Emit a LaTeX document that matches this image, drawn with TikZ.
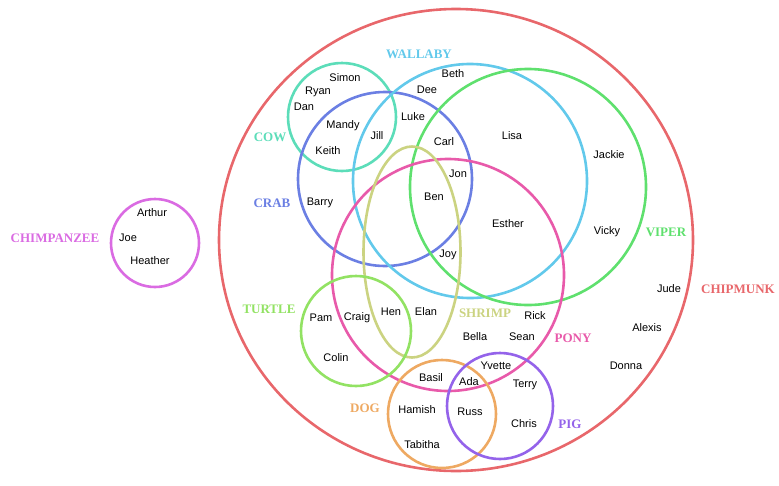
\documentclass[tikz,border=0pt]{standalone}
\usepackage{fontspec}
\setmainfont{Liberation Sans}
\newfontfamily\setfont{Liberation Serif}
\usetikzlibrary{shapes.geometric}
\definecolor{chipmunkc}{HTML}{E8676B}
\definecolor{chimpc}{HTML}{DA6BE2}
\definecolor{cowc}{HTML}{5CDDB9}
\definecolor{crabc}{HTML}{6B7FE3}
\definecolor{wallabyc}{HTML}{62C9EB}
\definecolor{viperc}{HTML}{5FE06E}
\definecolor{ponyc}{HTML}{E85AAA}
\definecolor{shrimpc}{HTML}{CBD381}
\definecolor{turtlec}{HTML}{92E263}
\definecolor{dogc}{HTML}{EEA962}
\definecolor{pigc}{HTML}{9463EA}

\begin{document}
\begin{tikzpicture}[x=1pt,y=-1pt,
  ring/.style={circle,draw,line width=2.6pt,inner sep=0pt},
  oval/.style={ellipse,draw,line width=2.6pt,inner sep=0pt},
  member/.style={font=\fontsize{11}{13}\selectfont,inner sep=0pt},
  setname/.style={font=\setfont\bfseries\fontsize{13}{15}\selectfont,inner sep=0pt}]
\useasboundingbox (0,0) rectangle (779,485);

% the sets
\node[oval,draw=chipmunkc,minimum width=474pt,minimum height=462pt] (chipmunk) at (456,240) {};
\node[ring,draw=chimpc,minimum size=88pt] (chimpanzee) at (155,243) {};
\node[ring,draw=cowc,minimum size=108pt] (cow) at (342,117) {};
\node[ring,draw=crabc,minimum size=174pt] (crab) at (385,179) {};
\node[ring,draw=wallabyc,minimum size=234pt] (wallaby) at (470,181) {};
\node[ring,draw=viperc,minimum size=236pt] (viper) at (528,187) {};
\node[ring,draw=ponyc,minimum size=232pt] (pony) at (448,275) {};
\node[oval,draw=shrimpc,minimum width=97pt,minimum height=211pt] (shrimp) at (412,252) {};
\node[ring,draw=turtlec,minimum size=110pt] (turtle) at (356,331) {};
\node[ring,draw=dogc,minimum size=108pt] (dog) at (442,414) {};
\node[ring,draw=pigc,minimum size=106pt] (pig) at (500,406) {};

% set labels
\node[setname,text=wallabyc] (lwallaby) at (419,54) {WALLABY};
\node[setname,text=cowc] (lcow) at (270,137) {COW};
\node[setname,text=crabc] (lcrab) at (272,203) {CRAB};
\node[setname,text=chimpc] (lchimpanzee) at (55,238) {CHIMPANZEE};
\node[setname,text=turtlec] (lturtle) at (269,309) {TURTLE};
\node[setname,text=shrimpc] (lshrimp) at (485,313) {SHRIMP};
\node[setname,text=ponyc] (lpony) at (573,338) {PONY};
\node[setname,text=dogc] (ldog) at (365,408) {DOG};
\node[setname,text=pigc] (lpig) at (570,424) {PIG};
\node[setname,text=viperc] (lviper) at (666,232) {VIPER};
\node[setname,text=chipmunkc] (lchipmunk) at (738,289) {CHIPMUNK};

% members
\node[member] (arthur) at (152,213) {Arthur};
\node[member] (joe) at (128,238) {Joe};
\node[member] (heather) at (150,261) {Heather};
\node[member] (simon) at (345,78) {Simon};
\node[member] (ryan) at (318,92) {Ryan};
\node[member] (dan) at (304,107) {Dan};
\node[member] (mandy) at (343,126) {Mandy};
\node[member] (jill) at (377,136) {Jill};
\node[member] (keith) at (328,151) {Keith};
\node[member] (barry) at (320,203) {Barry};
\node[member] (beth) at (453,74) {Beth};
\node[member] (dee) at (427,90) {Dee};
\node[member] (luke) at (413,117) {Luke};
\node[member] (carl) at (444,142) {Carl};
\node[member] (jon) at (458,174) {Jon};
\node[member] (ben) at (434,197) {Ben};
\node[member] (lisa) at (512,136) {Lisa};
\node[member] (jackie) at (609,155) {Jackie};
\node[member] (esther) at (508,224) {Esther};
\node[member] (vicky) at (607,232) {Vicky};
\node[member] (joy) at (448,255) {Joy};
\node[member] (jude) at (669,289) {Jude};
\node[member] (alexis) at (647,328) {Alexis};
\node[member] (donna) at (626,366) {Donna};
\node[member] (pam) at (321,318) {Pam};
\node[member] (craig) at (357,318) {Craig};
\node[member] (hen) at (391,312) {Hen};
\node[member] (elan) at (426,312) {Elan};
\node[member] (colin) at (336,358) {Colin};
\node[member] (rick) at (535,316) {Rick};
\node[member] (bella) at (475,337) {Bella};
\node[member] (sean) at (522,337) {Sean};
\node[member] (basil) at (431,378) {Basil};
\node[member] (ada) at (469,382) {Ada};
\node[member] (yvette) at (496,366) {Yvette};
\node[member] (terry) at (525,385) {Terry};
\node[member] (hamish) at (417,410) {Hamish};
\node[member] (russ) at (470,412) {Russ};
\node[member] (chris) at (524,424) {Chris};
\node[member] (tabitha) at (422,445) {Tabitha};
\end{tikzpicture}
\end{document}
